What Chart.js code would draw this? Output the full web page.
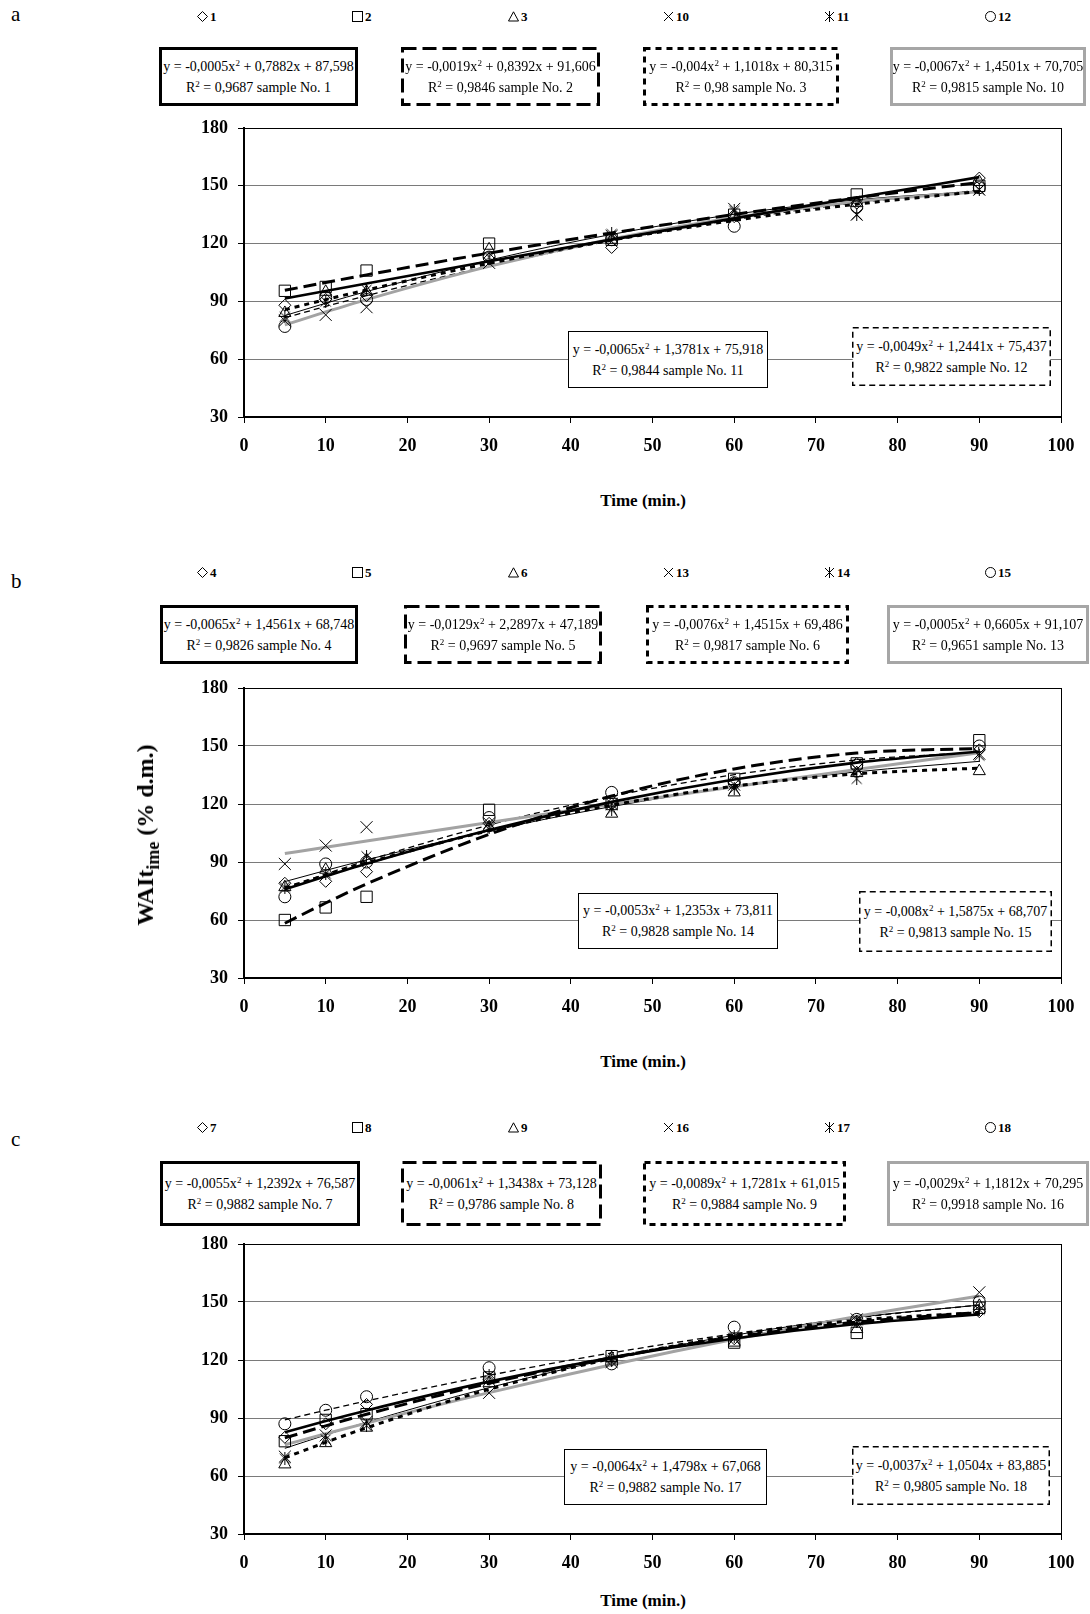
<!DOCTYPE html>
<html>
<head>
<meta charset="utf-8">
<script src="https://cdn.jsdelivr.net/npm/chart.js@4.4.0/dist/chart.umd.min.js"></script>
<style>
  body { margin: 0; background: #fff; }
  #page { position: relative; width: 1090px; height: 1614px; overflow: hidden;
          font-family: 'Liberation Serif', 'Times New Roman', serif; color: #000; }
  canvas { position: absolute; left: 0; }
  .letter { position: absolute; left: 11px; font-size: 21px; line-height: 21px; }
  .legend { position: absolute; display: flex; align-items: center; font-weight: bold; font-size: 13px; line-height: 13px; }
  .legend svg { margin-right: 2px; }
  .eq { position: absolute; box-sizing: border-box; font-size: 14px; line-height: 21px;
        white-space: nowrap; display: flex; flex-direction: column; justify-content: center; align-items: center; }
  .eq svg { position: absolute; left: 0; top: 0; }
  .eq span { position: relative; }
  sup { font-size: 9px; line-height: 0; vertical-align: 5px; }
  .xtitle { position: absolute; font-weight: bold; font-size: 17px; line-height: 17px; transform: translateX(-50%); white-space: nowrap; }
  .ytitle { position: absolute; font-weight: bold; font-size: 24px; line-height: 24px; white-space: nowrap;
            transform: translate(-50%, -50%) rotate(-90deg); }
  .ytitle sub { font-size: 18px; line-height: 0; vertical-align: -6px; }
</style>
</head>
<body>
<div id="page">
  <canvas id="chartA" width="1090" height="357" style="top:100px"></canvas>
  <canvas id="chartB" width="1090" height="358" style="top:660px"></canvas>
  <canvas id="chartC" width="1090" height="358" style="top:1216px"></canvas>
</div>
<script>
// sampling times (min.)
const times = [5, 10, 15, 30, 45, 60, 75, 90];
const xTicks = [0, 10, 20, 30, 40, 50, 60, 70, 80, 90, 100];
const yTicks = [30, 60, 90, 120, 150, 180];

// panel a - samples 1, 2, 3, 10, 11, 12
const samplesA = ['1', '2', '3', '10', '11', '12'];
const a1 = [88, 91, 93, 112, 118, 134, 141, 154];
const a2 = [95.5, 97.5, 106, 120, 122, 135, 145.5, 150];
const a3 = [84, 95, 95, 117, 122, 134, 141, 152];
const a10 = [80, 83, 87, 110, 124, 138, 135, 148];
const a11 = [82, 90, 96, 113, 125, 137, 135, 148];
const a12 = [77, 92, 91, 113, 122, 129, 139, 149];
const coefA1 = [-0.0005, 0.7882, 87.598];
const coefA2 = [-0.0019, 0.8392, 91.606];
const coefA3 = [-0.004, 1.1018, 80.315];
const coefA10 = [-0.0067, 1.4501, 70.705];
const coefA11 = [-0.0065, 1.3781, 75.918];
const coefA12 = [-0.0049, 1.2441, 75.437];
const r2A = ['0,9687', '0,9846', '0,98', '0,9815', '0,9844', '0,9822'];

// panel b - samples 4, 5, 6, 13, 14, 15
const samplesB = ['4', '5', '6', '13', '14', '15'];
const b4 = [79, 80, 85, 110, 120, 131, 141, 148];
const b5 = [60, 66.5, 72, 117, 120, 133, 141, 153];
const b6 = [77, 86, 91, 108, 115, 126, 136, 137];
const b13 = [89, 98.5, 108, 110, 120, 130, 138, 146];
const b14 = [77, 84, 93, 108, 117, 128, 133, 145];
const b15 = [72, 89, 90, 113, 126, 131, 140, 150];
const coefB4 = [-0.0065, 1.4561, 68.748];
const coefB5 = [-0.0129, 2.2897, 47.189];
const coefB6 = [-0.0076, 1.4515, 69.486];
const coefB13 = [-0.0005, 0.6605, 91.107];
const coefB14 = [-0.0053, 1.2353, 73.811];
const coefB15 = [-0.008, 1.5875, 68.707];
const r2B = ['0,9826', '0,9697', '0,9817', '0,9651', '0,9828', '0,9813'];

// panel c - samples 7, 8, 9, 16, 17, 18
const samplesC = ['7', '8', '9', '16', '17', '18'];
const c7 = [80, 87, 97, 110, 120, 131, 140, 145];
const c8 = [78, 89, 92, 111, 122, 129, 134, 147];
const c9 = [66, 77, 85, 108, 121, 129, 136, 148];
const c16 = [70, 81, 88, 103, 119, 131, 141, 155];
const c17 = [69, 79, 86, 112, 120, 132, 140, 146];
const c18 = [87, 94, 101, 116, 118, 137, 141, 150];
const coefC7 = [-0.0055, 1.2392, 76.587];
const coefC8 = [-0.0061, 1.3438, 73.128];
const coefC9 = [-0.0089, 1.7281, 61.015];
const coefC16 = [-0.0029, 1.1812, 70.295];
const coefC17 = [-0.0064, 1.4798, 67.068];
const coefC18 = [-0.0037, 1.0504, 83.885];
const r2C = ['0,9882', '0,9786', '0,9884', '0,9918', '0,9882', '0,9805'];

// ---- styles and layout ----
const FONT = "'Liberation Serif', 'Times New Roman', serif";

function makeStar() {
  const c = document.createElement('canvas');
  c.width = 13; c.height = 13;
  const g = c.getContext('2d');
  g.strokeStyle = '#000';
  g.lineWidth = 1;
  g.beginPath();
  g.moveTo(1.5, 1.5); g.lineTo(11.5, 11.5);
  g.moveTo(11.5, 1.5); g.lineTo(1.5, 11.5);
  g.moveTo(6.5, 0); g.lineTo(6.5, 13);
  g.stroke();
  return c;
}
const star = makeStar();
const markerStyles = ['rectRot', 'rect', 'triangle', 'crossRot', star, 'circle'];
const markerRadii = [6, 8, 7, 8.5, 6, 6];

const trendStyles = [
  { color: '#000', width: 2.6, dash: [] },
  { color: '#000', width: 3, dash: [13, 6] },
  { color: '#000', width: 3, dash: [5, 5] },
  { color: '#a3a3a3', width: 3, dash: [] },
  { color: '#000', width: 1, dash: [] },
  { color: '#000', width: 1.3, dash: [6, 4] }
];
const boxStyles = [
  { color: '#000', width: 3, dash: '' },
  { color: '#000', width: 3, dash: '14 6' },
  { color: '#000', width: 3, dash: '6 5' },
  { color: '#a6a6a6', width: 3, dash: '' },
  { color: '#000', width: 1, dash: '' },
  { color: '#000', width: 1.5, dash: '6 4' }
];

const legendX = [197, 352, 508, 663, 824, 985];
const page = document.getElementById('page');

function addDiv(cls, html, css) {
  const d = document.createElement('div');
  d.className = cls;
  d.innerHTML = html;
  Object.assign(d.style, css);
  page.appendChild(d);
  return d;
}

const legendSvg = [
  '<polygon points="5.5,0.5 10.5,5.5 5.5,10.5 0.5,5.5"/>',
  '<rect x="0.5" y="0.5" width="10" height="10"/>',
  '<polygon points="5.5,0.8 10.5,10 0.5,10"/>',
  '<path d="M1,1 L10,10 M10,1 L1,10"/>',
  '<path d="M1,1 L10,10 M10,1 L1,10 M5.5,0 L5.5,11"/>',
  '<circle cx="5.5" cy="5.5" r="5"/>'
];

function fmt(v) { return String(v).replace('.', ','); }

function eqText(c) {
  return 'y = ' + fmt(c[0]) + 'x<sup>2</sup> + ' + fmt(c[1]) + 'x + ' + fmt(c[2]);
}

function addBox(rect, style, coef, r2, sample) {
  const [x, y, w, h] = rect;
  const bw = style.width;
  const svg = '<svg width="' + w + '" height="' + h + '"><rect x="' + bw / 2 + '" y="' + bw / 2 +
    '" width="' + (w - bw) + '" height="' + (h - bw) + '" fill="#fff" stroke="' + style.color +
    '" stroke-width="' + bw + '" stroke-dasharray="' + style.dash + '"/></svg>';
  addDiv('eq', svg + '<span>' + eqText(coef) + '</span><span>R<sup>2</sup> = ' + r2 +
    ' sample No. ' + sample + '</span>',
    { left: x + 'px', top: y + 'px', width: w + 'px', height: h + 'px' });
}

function makePanel(p) {
  // letter, legend, boxes, axis title
  addDiv('letter', p.letter, { top: (p.letterY - 11) + 'px' });
  p.samples.forEach((s, i) => {
    addDiv('legend', '<svg width="11" height="11" fill="none" stroke="#000" stroke-width="1">' +
      legendSvg[i] + '</svg>' + s, { left: legendX[i] + 'px', top: (p.legendY - 6) + 'px' });
  });
  p.coefs.forEach((c, i) => addBox(p.boxes[i], boxStyles[i], c, p.r2[i], p.samples[i]));
  addDiv('xtitle', 'Time (min.)', { left: '643px', top: (p.titleY - 9) + 'px' });

  const datasets = [];
  p.values.forEach((v, i) => {
    datasets.push({
      type: 'scatter',
      data: times.map((t, j) => ({ x: t, y: v[j] })),
      pointStyle: markerStyles[i],
      pointRadius: markerRadii[i],
      pointBorderColor: '#000',
      pointBorderWidth: 1,
      pointBackgroundColor: 'rgba(0,0,0,0)',
      showLine: false
    });
  });
  p.coefs.forEach((c, i) => {
    const st = trendStyles[i];
    datasets.push({
      type: 'line',
      data: times.map(t => ({ x: t, y: c[0] * t * t + c[1] * t + c[2] })),
      borderColor: st.color,
      borderWidth: st.width,
      borderDash: st.dash,
      pointRadius: 0,
      fill: false,
      cubicInterpolationMode: 'monotone',
      showLine: true
    });
  });

  const tickFont = { family: FONT, size: 18, weight: 'bold' };
  new Chart(document.getElementById(p.canvas), {
    type: 'scatter',
    data: { datasets: datasets },
    options: {
      responsive: false,
      animation: false,
      devicePixelRatio: 1,
      layout: { padding: { top: 28, right: 29, left: 0, bottom: 0 } },
      plugins: { legend: { display: false }, tooltip: { enabled: false } },
      scales: {
        x: {
          type: 'linear', min: 0, max: 100,
          afterBuildTicks: s => { s.ticks = xTicks.map(v => ({ value: v })); },
          afterFit: s => { s.height = 40; },
          border: { color: '#000', width: 2 },
          grid: {
            color: ctx => (ctx.tick && ctx.tick.value === 100 ? '#000' : 'rgba(0,0,0,0)'),
            tickColor: '#000', tickLength: 6, lineWidth: 1
          },
          ticks: { font: tickFont, color: '#000', padding: 13, maxRotation: 0 }
        },
        y: {
          type: 'linear', min: 30, max: 180,
          afterBuildTicks: s => { s.ticks = yTicks.map(v => ({ value: v })); },
          afterFit: s => { s.width = 244; },
          border: { color: '#000', width: 2 },
          grid: {
            color: ctx => (ctx.tick && ctx.tick.value === 180 ? '#000' : '#7a7a7a'),
            tickColor: '#000', tickLength: 6, lineWidth: 1
          },
          ticks: { font: tickFont, color: '#000', padding: 10 }
        }
      }
    }
  });
}

makePanel({
  canvas: 'chartA', letter: 'a', letterY: 15, legendY: 16, titleY: 501,
  samples: samplesA, values: [a1, a2, a3, a10, a11, a12],
  coefs: [coefA1, coefA2, coefA3, coefA10, coefA11, coefA12], r2: r2A,
  boxes: [[159, 47, 199, 59], [401, 47, 199, 59], [643, 47, 196, 59], [890, 47, 196, 59],
          [568, 331, 200, 57], [852, 327, 199, 59]]
});
makePanel({
  canvas: 'chartB', letter: 'b', letterY: 582, legendY: 572, titleY: 1062,
  samples: samplesB, values: [b4, b5, b6, b13, b14, b15],
  coefs: [coefB4, coefB5, coefB6, coefB13, coefB14, coefB15], r2: r2B,
  boxes: [[160, 605, 198, 59], [404, 605, 198, 59], [646, 605, 203, 59], [887, 605, 202, 59],
          [578, 893, 200, 56], [859, 891, 193, 61]]
});
makePanel({
  canvas: 'chartC', letter: 'c', letterY: 1140, legendY: 1127, titleY: 1601,
  samples: samplesC, values: [c7, c8, c9, c16, c17, c18],
  coefs: [coefC7, coefC8, coefC9, coefC16, coefC17, coefC18], r2: r2C,
  boxes: [[160, 1161, 200, 65], [401, 1161, 201, 65], [643, 1161, 203, 65], [887, 1161, 202, 65],
          [564, 1449, 203, 56], [852, 1446, 198, 59]]
});

addDiv('ytitle', 'WAIt<sub>ime</sub> (% d.m.)', { left: '145px', top: '835px' });
</script>
</body>
</html>
